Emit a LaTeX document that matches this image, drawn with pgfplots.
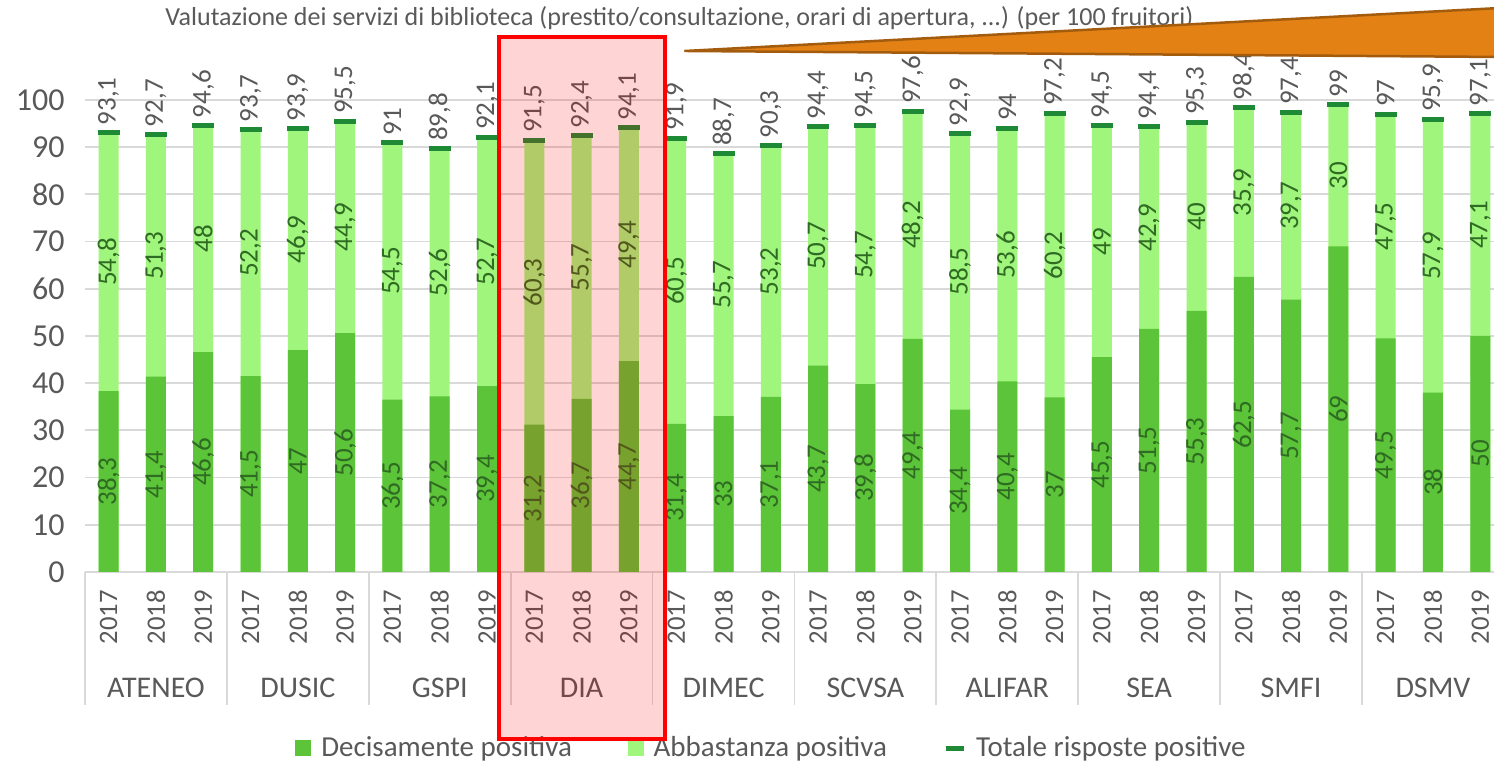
\documentclass[border=0pt]{standalone}
\usepackage{pgfplots}
\pgfplotsset{compat=1.18}
\usepackage{pgfplotstable}
\usepackage{fontspec}
\setmainfont{Carlito}
\definecolor{decg}{HTML}{5CC438}
\definecolor{abbg}{HTML}{A0F57D}
\definecolor{totg}{HTML}{1F8A36}
\definecolor{txt}{HTML}{595959}
\definecolor{lblg}{HTML}{2F6B22}
\definecolor{gridc}{HTML}{D9D9D9}
\definecolor{orng}{HTML}{E38115}
\definecolor{orngd}{HTML}{A35C0E}

\pgfplotstableread{
x dec abb tot
0 38.3 54.8 93.1
1 41.4 51.3 92.7
2 46.6 48 94.6
3 41.5 52.2 93.7
4 47 46.9 93.9
5 50.6 44.9 95.5
6 36.5 54.5 91
7 37.2 52.6 89.8
8 39.4 52.7 92.1
9 31.2 60.3 91.5
10 36.7 55.7 92.4
11 44.7 49.4 94.1
12 31.4 60.5 91.9
13 33 55.7 88.7
14 37.1 53.2 90.3
15 43.7 50.7 94.4
16 39.8 54.7 94.5
17 49.4 48.2 97.6
18 34.4 58.5 92.9
19 40.4 53.6 94
20 37 60.2 97.2
21 45.5 49 94.5
22 51.5 42.9 94.4
23 55.3 40 95.3
24 62.5 35.9 98.4
25 57.7 39.7 97.4
26 69 30 99
27 49.5 47.5 97
28 38 57.9 95.9
29 50 47.1 97.1
}\data

\newcommand{\lblfont}{\fontsize{13.5}{16}\selectfont}
\newcommand{\yearfont}{\fontsize{13.3}{16}\selectfont}
\newcommand{\ytfont}{\fontsize{16}{19}\selectfont}
\newcommand{\grpfont}{\fontsize{15}{18}\selectfont}
\newcommand{\legfont}{\fontsize{14.5}{17}\selectfont}

\begin{document}
\begin{tikzpicture}[x=0.5pt,y=0.5pt]
\useasboundingbox (0,0) rectangle (1494,763);
\clip (0,0) rectangle (1494,763);
\begin{axis}[
  at={(42.5pt,95.5pt)}, anchor=south west,
  scale only axis, width=704.5pt, height=236pt,
  xmin=-0.5, xmax=29.29, ymin=0, ymax=100,
  clip=false,
  axis line style={draw=none},
  /pgf/number format/assume math mode=true,
  /pgf/number format/use comma,
  /pgf/number format/1000 sep={},
  ytick={0,10,...,100},
  ymajorgrids, grid style={gridc, line width=0.9pt},
  major tick length=0pt,
  xtick={0,...,29},
  xticklabels={2017,2018,2019,2017,2018,2019,2017,2018,2019,2017,2018,2019,2017,2018,2019,2017,2018,2019,2017,2018,2019,2017,2018,2019,2017,2018,2019,2017,2018,2019},
  xticklabel style={rotate=90, anchor=east, inner sep=0pt, font=\yearfont, text=txt},
  xticklabel shift=9pt,
  yticklabel style={anchor=east, inner sep=0pt, font=\ytfont, text=txt},
  yticklabel shift=10pt,
  legend style={at={(0.488,-0.373)}, anchor=center, draw=none, fill=none,
    legend columns=3, font=\legfont, text=txt,
    /tikz/every odd column/.append style={column sep=3pt},
    /tikz/every even column/.append style={column sep=26pt}},
]
\addlegendimage{legend image code/.code={\fill[decg] (0pt,-3.5pt) rectangle (7.5pt,4pt);}}
\addlegendentry{Decisamente positiva}
\addlegendimage{legend image code/.code={\fill[abbg] (0pt,-3.5pt) rectangle (7.5pt,4pt);}}
\addlegendentry{Abbastanza positiva}
\addlegendimage{legend image code/.code={\draw[totg, line width=2.5pt] (0pt,0pt) -- (9pt,0pt);}}
\addlegendentry{Totale risposte positive}

% separators of the category axis
\draw[gridc, line width=0.9pt] (axis cs:-0.5,0) -- ([yshift=-66.5pt]axis cs:-0.5,0);
\draw[gridc, line width=0.9pt] (axis cs:2.5,0) -- ([yshift=-66.5pt]axis cs:2.5,0);
\draw[gridc, line width=0.9pt] (axis cs:5.5,0) -- ([yshift=-66.5pt]axis cs:5.5,0);
\draw[gridc, line width=0.9pt] (axis cs:8.5,0) -- ([yshift=-66.5pt]axis cs:8.5,0);
\draw[gridc, line width=0.9pt] (axis cs:11.5,0) -- ([yshift=-66.5pt]axis cs:11.5,0);
\draw[gridc, line width=0.9pt] (axis cs:14.5,0) -- ([yshift=-66.5pt]axis cs:14.5,0);
\draw[gridc, line width=0.9pt] (axis cs:17.5,0) -- ([yshift=-66.5pt]axis cs:17.5,0);
\draw[gridc, line width=0.9pt] (axis cs:20.5,0) -- ([yshift=-66.5pt]axis cs:20.5,0);
\draw[gridc, line width=0.9pt] (axis cs:23.5,0) -- ([yshift=-66.5pt]axis cs:23.5,0);
\draw[gridc, line width=0.9pt] (axis cs:26.5,0) -- ([yshift=-66.5pt]axis cs:26.5,0);
\draw[gridc, line width=0.9pt] (axis cs:-0.5,0) -- (axis cs:29.29,0);

\addplot[ybar, bar width=10pt, bar shift=0pt, fill=abbg, draw=none, forget plot] table[x=x,y=tot]{\data};
\addplot[ybar, bar width=10pt, bar shift=0pt, fill=decg, draw=none, forget plot] table[x=x,y=dec]{\data};
\addplot[only marks, mark=-, mark size=5.5pt, mark options={line width=2.5pt, draw=totg}, forget plot] table[x=x,y=tot]{\data};

\addplot[only marks, mark=none, forget plot, point meta=explicit,
  nodes near coords={\pgfmathprintnumber{\pgfplotspointmeta}},
  nodes near coords style={rotate=90, anchor=center, inner sep=0pt, font=\lblfont, text=lblg}]
  table[x=x, y expr=\thisrow{dec}/2, meta=dec]{\data};
\addplot[only marks, mark=none, forget plot, point meta=explicit,
  nodes near coords={\pgfmathprintnumber{\pgfplotspointmeta}},
  nodes near coords style={rotate=90, anchor=center, inner sep=0pt, font=\lblfont, text=lblg}]
  table[x=x, y expr=\thisrow{dec}+\thisrow{abb}/2, meta=abb]{\data};
\addplot[only marks, mark=none, forget plot, point meta=explicit,
  nodes near coords={\pgfmathprintnumber{\pgfplotspointmeta}},
  nodes near coords style={rotate=90, anchor=west, inner xsep=3.5pt, inner ysep=0pt, font=\lblfont, text=txt}]
  table[x=x, y=tot, meta=tot]{\data};

\node[font=\grpfont, text=txt] at ([yshift=-58pt]axis cs:1,0) {ATENEO};
\node[font=\grpfont, text=txt] at ([yshift=-58pt]axis cs:4,0) {DUSIC};
\node[font=\grpfont, text=txt] at ([yshift=-58pt]axis cs:7,0) {GSPI};
\node[font=\grpfont, text=txt] at ([yshift=-58pt]axis cs:10,0) {DIA};
\node[font=\grpfont, text=txt] at ([yshift=-58pt]axis cs:13,0) {DIMEC};
\node[font=\grpfont, text=txt] at ([yshift=-58pt]axis cs:16,0) {SCVSA};
\node[font=\grpfont, text=txt] at ([yshift=-58pt]axis cs:19,0) {ALIFAR};
\node[font=\grpfont, text=txt] at ([yshift=-58pt]axis cs:22,0) {SEA};
\node[font=\grpfont, text=txt] at ([yshift=-58pt]axis cs:25,0) {SMFI};
\node[font=\grpfont, text=txt] at ([yshift=-58pt]axis cs:28,0) {DSMV};
\end{axis}
% title
\node[anchor=west, font=\fontsize{13}{15}\selectfont, text=txt, inner sep=0pt] at (165,745)
  {Valutazione dei servizi di biblioteca (prestito/consultazione, orari di apertura, ...) (per 100 fruitori)};
% highlight box around DIA
\fill[red, fill opacity=0.17] (499,726) rectangle (665,24);
\draw[red, line width=2pt] (499,726) rectangle (665,24);
% orange callout
\filldraw[fill=orng, draw=orngd, line width=1.25pt, line join=round] (685,712) -- (1500,755) -- (1500,706) -- cycle;
\end{tikzpicture}
\end{document}
